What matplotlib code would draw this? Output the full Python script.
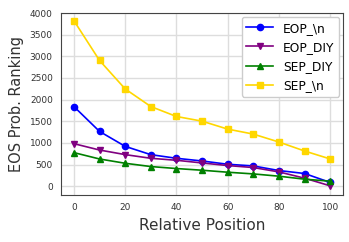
import matplotlib
matplotlib.use("Agg")
import matplotlib.pyplot as plt

positions = [0, 10, 20, 30, 40, 50, 60, 70, 80, 90, 100]
eop_n = [1840, 1265, 920, 728, 644, 582, 506, 467, 361, 292, 85]
eop_diy = [982, 835, 729, 644, 598, 536, 476, 430, 329, 184, 7]
sep_diy = [775, 628, 529, 453, 407, 368, 322, 283, 230, 161, 115]
sep_n = [3825, 2905, 2247, 1840, 1610, 1502, 1318, 1203, 1019, 812, 628]

fig, ax = plt.subplots(figsize=(3.49, 2.42), dpi=100)
ms = 4.5
ax.plot(positions, eop_n, color="blue", marker="o", ms=ms, lw=1.2, label="EOP_\\n")
ax.plot(positions, eop_diy, color="purple", marker="v", ms=ms, lw=1.2, label="EOP_DIY")
ax.plot(positions, sep_diy, color="green", marker="^", ms=ms, lw=1.2, label="SEP_DIY")
ax.plot(positions, sep_n, color="gold", marker="s", ms=ms, lw=1.2, label="SEP_\\n")

ax.set_ylim(-200, 4000)
ax.set_yticks(range(0, 4001, 500))
ax.set_xticks(range(0, 101, 20))
ax.grid(True, color="#dddddd", lw=1)
ax.set_axisbelow(True)
for s in ax.spines.values():
    s.set_color("#444444")
ax.tick_params(labelsize=6.5, colors="#333333", length=0, pad=6)
ax.set_xlabel("Relative Position", fontsize=11, color="#333333")
ax.set_ylabel("EOS Prob. Ranking", fontsize=10.5, color="#333333")
ax.legend(loc="upper right", fontsize=8.8, framealpha=1, handlelength=2.2,
          borderaxespad=0.3)

fig.subplots_adjust(left=0.175, right=0.983, top=0.946, bottom=0.195)
fig.savefig("out.png", dpi=100)
